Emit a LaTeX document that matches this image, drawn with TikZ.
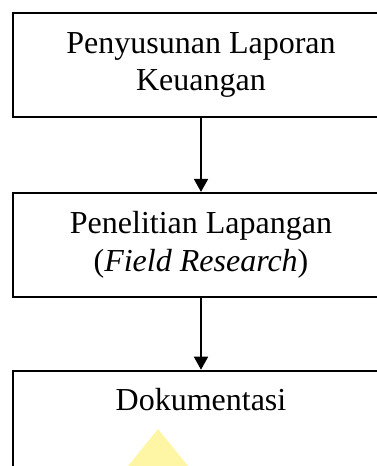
\documentclass[tikz,border=0pt]{standalone}
\usepackage{fontspec}
\setmainfont{Liberation Serif}
\usetikzlibrary{positioning,arrows.meta}
\definecolor{paleYellow}{RGB}{255,246,165}

\begin{document}
\begin{tikzpicture}[x=1pt,y=-1pt,>={Triangle[width=14pt,length=13pt]},line width=1.8pt]
  \useasboundingbox (0,0) rectangle (377,466);
  \clip (0,0) rectangle (377,466);
  \tikzset{
    stepBox/.style={rectangle,draw=black,minimum width=376pt,minimum height=104pt,
      align=center,font=\fontsize{32}{37.5}\selectfont},
    openBox/.style={stepBox,minimum height=0pt,inner ysep=0pt,text height=40pt,text depth=80pt},
    flow/.style={->,draw=black},
    % warning mark
    warnTri/.style={fill=paleYellow,draw=none}
  }

  %% Tahapan
  \node [stepBox] (lapKeu) at (201,65) {Penyusunan Laporan\\Keuangan};
  \node [stepBox, below=74pt of lapKeu] (lapangan) {Penelitian Lapangan\\(\textit{Field Research})};
  \node [openBox, below=72pt of lapangan] (dokumen) {Dokumentasi};

  \draw [flow] (lapKeu) -- (lapangan);
  \draw [flow] (lapangan) -- (dokumen);

  \fill [warnTri] (158,429) -- (128,466) -- (188,466) -- cycle;

\end{tikzpicture}
\end{document}
